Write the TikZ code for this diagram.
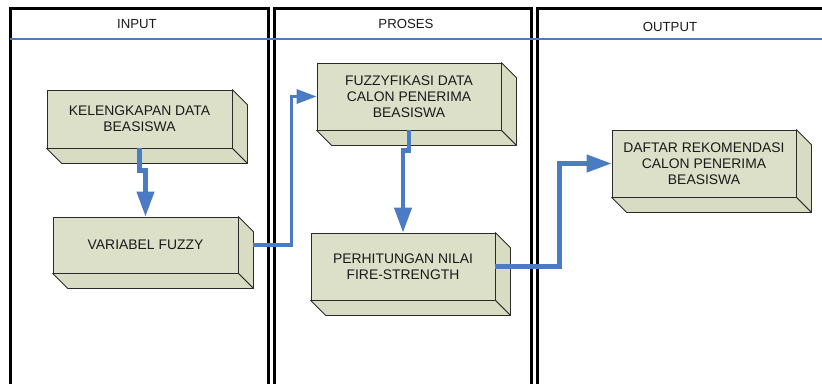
\documentclass[tikz,border=0pt]{standalone}
\usepackage{fontspec}
\setmainfont{Liberation Sans}
\usetikzlibrary{arrows.meta,calc}
\definecolor{flowblue}{HTML}{4A7BC4}
\definecolor{boxfront}{HTML}{DDE0C9}
\definecolor{boxside}{HTML}{D8DCC2}
\definecolor{boxedge}{HTML}{2B2B2B}
\definecolor{inktext}{HTML}{1A1A1A}

% extruded sides of a block, drawn down and to the right of its front face
\newcommand\blockdepth[1]{%
  \filldraw[blockside] (#1.north east) -- ++(15,15) -- ($(#1.south east)+(15,15)$) -- (#1.south east) -- cycle;
  \filldraw[blockside] (#1.south west) -- (#1.south east) -- ++(15,15) -- ($(#1.south west)+(15,15)$) -- cycle;
}

\begin{document}
\begin{tikzpicture}[x=1pt,y=-1pt,
  lane/.style={draw=black,line width=3pt},
  lanetitle/.style={font=\fontsize{13.2}{15}\selectfont,text=inktext,inner sep=0pt},
  block/.style={draw=boxedge,fill=boxfront,line width=0.8pt,inner sep=0pt,align=center,
    font=\fontsize{13.9}{16}\selectfont,text=inktext},
  blockside/.style={draw=boxedge,fill=boxside,line width=0.8pt,line join=round},
  flow/.style={draw=flowblue,line width=4.2pt,-{Triangle[length=25pt,width=17pt]}},
  thinflow/.style={draw=flowblue,line width=3.2pt,-{Triangle[length=20pt,width=14pt]}}
]
\useasboundingbox (0,0) rectangle (822,383);
\clip (0,0) rectangle (822,383);

% swimlanes
\draw[lane] (10,8) rectangle (268,420);
\draw[lane] (274,8) rectangle (531,420);
\draw[lane] (537,8) rectangle (860,420);
\draw[flowblue,line width=2.8pt] (10,39) -- (860,39);

\node[lanetitle] (tin) at (137,24) {INPUT};
\node[lanetitle] (tpro) at (406,24) {PROSES};
\node[lanetitle] (tout) at (670,27) {OUTPUT};

% blocks
\node[block,minimum width=185pt,minimum height=58pt] (k) at (139.5,119) {KELENGKAPAN DATA\\BEASISWA};
\blockdepth{k}
\node[block,minimum width=185pt,minimum height=56pt] (v) at (145.5,245) {VARIABEL FUZZY};
\blockdepth{v}
\node[block,minimum width=184pt,minimum height=67pt] (f) at (409,96.5) {FUZZYFIKASI DATA\\CALON PENERIMA\\BEASISWA};
\blockdepth{f}
\node[block,minimum width=184pt,minimum height=67pt] (p) at (403,266.5) {PERHITUNGAN NILAI\\FIRE-STRENGTH};
\blockdepth{p}
\node[block,minimum width=184pt,minimum height=67pt] (d) at (704,163.5) {DAFTAR REKOMENDASI\\CALON PENERIMA\\BEASISWA};
\blockdepth{d}

% connectors
\draw[flow] (k.south) -- ++(0,22) -| (v.north);
\draw[thinflow] ([xshift=15pt]v.east) -- ++(38,0) |- (f.west);
\draw[flow] (f.south) -- ++(0,20) -| (p.north);
\draw[flow] (p.east) -- ++(64,0) |- (d.west);
\end{tikzpicture}
\end{document}
